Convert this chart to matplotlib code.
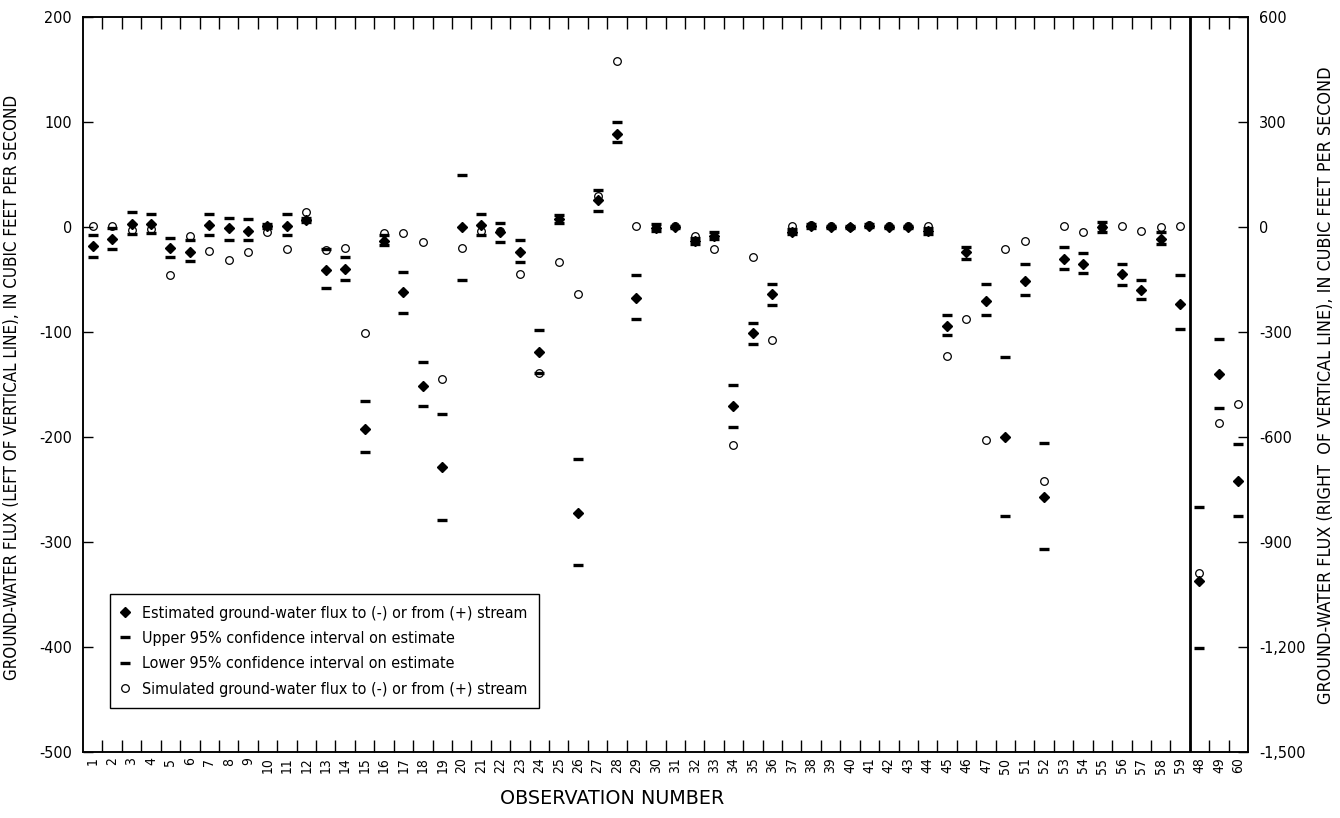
import matplotlib
matplotlib.use('Agg')
import matplotlib.pyplot as plt
import matplotlib.ticker as ticker
from matplotlib.lines import Line2D
import numpy as np

# narrow lettering throughout
plt.rcParams['font.family'] = ['DejaVu Sans']
plt.rcParams['font.stretch'] = 'condensed'
plt.rcParams['axes.unicode_minus'] = False

# observations in plotting order; the last three use the right-hand scale
obsLeft = ['1', '2', '3', '4', '5', '6', '7', '8', '9', '10', '11', '12', '13', '14', '15',
           '16', '17', '18', '19', '20', '21', '22', '23', '24', '25', '26', '27', '28', '29',
           '30', '31', '32', '33', '34', '35', '36', '37', '38', '39', '40', '41', '42', '43',
           '44', '45', '46', '47', '50', '51', '52', '53', '54', '55', '56', '57', '58', '59']
obsRight = ['48', '49', '60']

# ground-water flux, cubic feet per second
estLeft = [-18, -11, 3, 3, -20, -24, 2, -1, -4, 1, 1, 7, -41, -40, -192,
           -13, -62, -151, -229, 0, 2, -5, -24, -119, 8, -272, 26, 89, -68,
           -1, 0, -13, -9, -170, -101, -64, -5, 1, 0, 0, 1, 0, 0,
           -4, -94, -24, -70, -200, -51, -257, -30, -35, 0, -45, -60, -11, -73]
upperLeft = [-8, -1, 14, 12, -10, -12, 12, 9, 8, 3, 12, 9, -21, -29, -166,
             -8, -43, -129, -178, 50, 12, 4, -12, -98, 11, -221, 35, 100, -46,
             3, 1, -10, -5, -150, -91, -54, -2, 3, 1, 1, 3, 1, 1,
             -1, -84, -19, -54, -124, -35, -206, -19, -25, 5, -35, -50, -5, -46]
lowerLeft = [-29, -21, -7, -6, -29, -32, -8, -12, -12, -1, -8, 5, -58, -50, -214,
             -17, -82, -170, -279, -50, -8, -14, -33, -139, 4, -322, 15, 81, -88,
             -4, -1, -16, -11, -190, -111, -74, -7, -1, -1, -1, 0, -1, -1,
             -7, -103, -30, -84, -275, -65, -307, -40, -44, -5, -55, -69, -16, -97]
simLeft = [1, 1, -3, -2, -46, -9, -23, -31, -24, -5, -21, 14, -22, -20, -101,
           -6, -6, -14, -145, -20, -4, -4, -45, -139, -33, -64, 30, 158, 1,
           0, 1, -9, -21, -208, -29, -108, 1, 2, 1, 0, 2, 1, 1,
           1, -123, -88, -203, -21, -13, -242, 1, -5, 0, 1, -4, 0, 1]

estRight = [-1012, -420, -726]
upperRight = [-801, -321, -620]
lowerRight = [-1204, -518, -825]
simRight = [-988, -559, -506]

labels = obsLeft + obsRight
xLeft = np.arange(len(obsLeft))
xRight = np.arange(len(obsLeft), len(labels))

fig = plt.figure(figsize=(13.4, 8.18), dpi=100)
ax = fig.add_axes([83/1340, 1 - 752/818, 1165/1340, 735/818])
ax2 = ax.twinx()

dash = dict(marker='_', ms=7.5, mew=2.4, color='black', ls='none')
diamond = dict(marker='D', ms=5.4, color='black', ls='none')
circle = dict(marker='o', ms=5.5, mfc='none', mec='black', mew=0.9, ls='none')

for a, xs, est, up, lo, sim in [(ax, xLeft, estLeft, upperLeft, lowerLeft, simLeft),
                                 (ax2, xRight, estRight, upperRight, lowerRight, simRight)]:
    a.plot(xs, up, **dash)
    a.plot(xs, lo, **dash)
    a.plot(xs, est, **diamond)
    a.plot(xs, sim, **circle)

# divider between the two scales
ax.axvline(len(obsLeft) - 0.5, color='black', lw=2)

ax.set_xlim(-0.5, len(labels) - 0.5)
ax.set_ylim(-500, 200)
ax2.set_ylim(-1500, 600)

ax.set_xticks(np.arange(len(labels)))
ax.set_xticklabels(labels, rotation=90)
ax.set_xticks(np.arange(len(labels) - 1) + 0.5, minor=True)
ax.tick_params(axis='x', which='major', length=0, pad=4, labelsize=10)
ax.tick_params(axis='x', which='minor', direction='in', length=8.5, width=1, top=True, bottom=True)

ax.yaxis.set_major_locator(ticker.MultipleLocator(100))
ax.tick_params(axis='y', direction='in', length=7.5, width=1, pad=8, labelsize=11.5)
ax2.yaxis.set_major_locator(ticker.MultipleLocator(300))
ax2.yaxis.set_major_formatter(ticker.FuncFormatter(lambda v, p: '{:,.0f}'.format(v)))
ax2.tick_params(axis='y', direction='in', length=7.5, width=1, pad=8, labelsize=11.5)

for a in (ax, ax2):
    for s in a.spines.values():
        s.set_linewidth(1.1)

fig.text(12/1340, 1 - 387/818, 'GROUND-WATER FLUX (LEFT OF VERTICAL LINE), IN CUBIC FEET PER SECOND',
         rotation=90, ha='center', va='center', fontsize=12.2)
fig.text(1326/1340, 1 - 385/818, 'GROUND-WATER FLUX (RIGHT  OF VERTICAL LINE), IN CUBIC FEET PER SECOND',
         rotation=90, ha='center', va='center', fontsize=12.9)
fig.text(612/1340, 1 - 798/818, 'OBSERVATION NUMBER', ha='center', va='center',
         fontsize=13.8, fontstretch='normal')

handles = [Line2D([], [], **diamond), Line2D([], [], **dash), Line2D([], [], **dash),
           Line2D([], [], **circle)]
names = ['Estimated ground-water flux to (-) or from (+) stream',
         'Upper 95% confidence interval on estimate',
         'Lower 95% confidence interval on estimate',
         'Simulated ground-water flux to (-) or from (+) stream']
leg = ax.legend(handles, names, loc='lower left', bbox_to_anchor=(27/1165, 44/735),
                fontsize=11.5, frameon=True, fancybox=False, edgecolor='black',
                handlelength=0.45, handletextpad=0.85, labelspacing=0.65, borderpad=0.7,
                borderaxespad=0)
leg.get_frame().set_linewidth(1)
leg.get_frame().set_alpha(1)

plt.savefig('out.png', dpi=100)
